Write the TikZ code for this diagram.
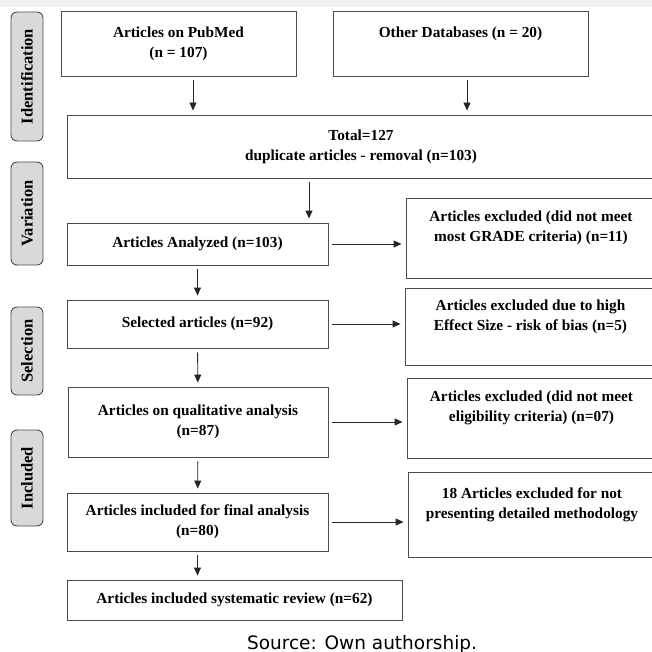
\documentclass[tikz,border=0pt]{standalone}
\usepackage{fontspec}
\setmainfont{Liberation Serif}
\newfontfamily\srcfont{DejaVu Sans}
\usetikzlibrary{arrows.meta}

\tikzset{
  box/.style={draw=black!70, line width=0.9pt, align=center, inner sep=0pt,
    font=\fontsize{15.3}{20}\selectfont\bfseries},
  phase/.style={draw=black!70, fill=black!15, line width=0.9pt, rounded corners=6pt,
    rotate=90, minimum height=32pt, inner sep=0pt,
    font=\fontsize{16.5}{20}\selectfont\bfseries},
  arr/.style={-{Triangle[length=8pt,width=7pt]}, line width=0.9pt, black!85,
    shorten <=4pt, shorten >=4pt},
}

\begin{document}
\begin{tikzpicture}[x=1pt,y=-1pt]
\useasboundingbox (0,0) rectangle (652,652);
\fill[black!6] (0,0) rectangle (652,7);

% phases on the left
\node[phase, minimum width=129pt] (ident) at (27,76.5) {Identification};
\node[phase, minimum width=103pt] (vari) at (27,213.5) {Variation};
\node[phase, minimum width=88pt] (selec) at (27,351) {Selection};
\node[phase, minimum width=96pt] (incl) at (27,478) {Included};

% main column
\node[box, minimum width=235pt, minimum height=65pt] (pub) at (178.5,43.5) {Articles on PubMed\\(n = 107)};
\node[box, minimum width=255pt, minimum height=65pt] (other) at (460.5,43.5) {Other Databases (n = 20)\\\phantom{(n)}};
\node[box, minimum width=588pt, minimum height=63pt] (total) at (361,146.5) {Total=127\\duplicate articles - removal (n=103)};
\node[box, minimum width=261pt, minimum height=42pt] (anl) at (197.5,244) {Articles Analyzed (n=103)};
\node[box, minimum width=261pt, minimum height=48pt] (sel) at (197.5,324) {Selected articles (n=92)};
\node[box, minimum width=260pt, minimum height=70pt] (qual) at (198,422) {Articles on qualitative analysis\\(n=87)};
\node[box, minimum width=261pt, minimum height=58pt] (fin) at (197.5,522) {Articles included for final analysis\\(n=80)};
\node[box, minimum width=335pt, minimum height=40pt] (sys) at (234.5,600) {Articles included systematic review (n=62)};

% excluded boxes
\node[box, minimum width=250pt, minimum height=80pt] (ex1) at (531,238) {Articles excluded (did not meet\\most GRADE criteria) (n=11)\\\phantom{(n)}};
\node[box, minimum width=251pt, minimum height=77pt] (ex2) at (530.5,326.5) {Articles excluded due to high\\Effect Size - risk of bias (n=5)\\\phantom{(n)}};
\node[box, minimum width=249pt, minimum height=80pt] (ex3) at (531.5,418) {Articles excluded (did not meet\\eligibility criteria) (n=07)\\\phantom{(n)}};
\node[box, minimum width=248pt, minimum height=85pt] (ex4) at (532,514.5) {18 Articles excluded for not\\presenting detailed methodology\\\phantom{(n)}};

% arrows
\draw[arr] ([xshift=14.5pt]pub.south) -- ([xshift=14.5pt]pub.south |- total.north);
\draw[arr] ([xshift=6.5pt]other.south) -- ([xshift=6.5pt]other.south |- total.north);
\draw[arr] ([xshift=-52pt]total.south) -- ([xshift=-52pt]total.south |- anl.north);
\draw[arr] (anl) -- (sel);
\draw[arr] (sel) -- (qual);
\draw[arr] (qual) -- (fin);
\draw[arr] (fin.south) -- (fin.south |- sys.north);
\draw[arr] (anl.east) -- (anl.east -| ex1.west);
\draw[arr] (sel.east) -- (sel.east -| ex2.west);
\draw[arr] (qual.east) -- (qual.east -| ex3.west);
\draw[arr] (fin.east) -- (fin.east -| ex4.west);

\node[font=\srcfont\fontsize{18.5}{20}\selectfont, anchor=base] (src) at (362,649) {Source: Own authorship.};
\end{tikzpicture}
\end{document}
